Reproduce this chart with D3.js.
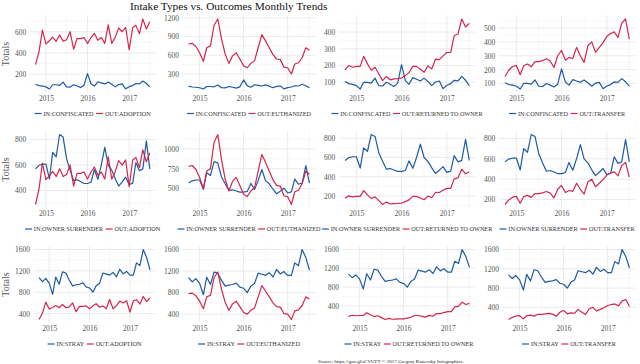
<!DOCTYPE html>
<html>
<head>
<meta charset="utf-8">
<script src="https://cdn.jsdelivr.net/npm/d3@7"></script>
<style>
  body { margin: 0; background: #fff; }
  svg { display: block; font-family: "Liberation Serif", "Times New Roman", serif; }
</style>
</head>
<body>
<div id="wrapper"></div>
<script>
// monthly totals, Oct 2014 - Jul 2017
const months = [
    "2014-10", "2014-11", "2014-12",
    "2015-01", "2015-02", "2015-03", "2015-04", "2015-05", "2015-06",
    "2015-07", "2015-08", "2015-09", "2015-10", "2015-11", "2015-12",
    "2016-01", "2016-02", "2016-03", "2016-04", "2016-05", "2016-06",
    "2016-07", "2016-08", "2016-09", "2016-10", "2016-11", "2016-12",
    "2017-01", "2017-02", "2017-03", "2017-04", "2017-05", "2017-06", "2017-07"
]

// intake series (blue)
const inConfiscated = [105, 92, 88, 80, 60, 100, 100, 95, 125, 80, 78, 100, 88, 75, 95, 205, 110, 88, 128, 118, 108, 125, 105, 80, 102, 108, 62, 82, 92, 112, 108, 135, 112, 80]
const inOwnerSurrender = [570, 598, 608, 608, 490, 700, 665, 840, 820, 650, 560, 478, 485, 470, 455, 455, 465, 565, 488, 600, 740, 600, 560, 492, 435, 468, 505, 445, 458, 620, 555, 570, 790, 570]
const inStray = [1075, 1000, 1060, 970, 760, 1085, 950, 1180, 1160, 1030, 920, 940, 950, 975, 900, 880, 800, 920, 970, 1160, 1140, 1120, 1170, 1090, 1230, 1145, 1190, 1120, 1120, 1350, 1300, 1600, 1450, 1220]

// outcome series (red)
const outAdoption = [290, 410, 615, 485, 515, 550, 510, 570, 510, 525, 600, 435, 535, 535, 545, 490, 545, 585, 520, 545, 490, 665, 490, 550, 635, 600, 640, 430, 640, 660, 580, 720, 625, 695]
const outEuthanized = [780, 790, 740, 640, 500, 720, 750, 1080, 1180, 870, 620, 470, 590, 640, 540, 430, 400, 470, 510, 720, 930, 830, 720, 610, 540, 530, 410, 400, 300, 460, 480, 560, 720, 680]
const outReturnedToOwner = [175, 200, 190, 195, 195, 255, 210, 172, 190, 150, 110, 135, 115, 120, 122, 125, 140, 158, 195, 195, 178, 160, 198, 180, 238, 235, 258, 278, 278, 378, 388, 478, 430, 452]
const outTransfer = [150, 195, 222, 230, 163, 228, 240, 220, 258, 258, 265, 278, 262, 215, 300, 338, 268, 288, 280, 360, 300, 252, 372, 400, 325, 360, 395, 440, 460, 472, 432, 535, 565, 420]

const intakeLabels = ["IN:CONFISCATED", "IN:OWNER SURRENDER", "IN:STRAY"]
const outcomeLabels = ["OUT:ADOPTION", "OUT:EUTHANIZED", "OUT:RETURNED TO OWNER", "OUT:TRANSFER"]
const yearTicks = ["2015", "2016", "2017"]

// y breaks per panel [row][col]
const yTickValues = [
    [[200, 400, 600], [300, 600, 900, 1200], [100, 200, 300, 400], [100, 200, 300, 400, 500]],
    [[400, 600, 800], [500, 750, 1000], [200, 400, 600, 800], [200, 400, 600, 800]],
    [[400, 800, 1200, 1600], [400, 800, 1200, 1600], [400, 800, 1200, 1600], [400, 800, 1200, 1600]]
]

const titleText = "Intake Types vs. Outcomes Monthly Trends"
const sourceText = "Source: https://goo.gl/rCVUFT \u00A9 2017 Gregory Kanevsky Infographics."

function drawTrends(){
    const intakes = [inConfiscated, inOwnerSurrender, inStray]
    const outcomes = [outAdoption, outEuthanized, outReturnedToOwner, outTransfer]

    const parseMonth = d3.timeParse("%Y-%m")
    const dates = months.map(parseMonth)
    const parseYear = d3.timeParse("%Y")

    const colors = { intake: "#1f5aa3", outcome: "#d3264f" }

    const dimensions = {
        width: 640,
        height: 364,
        colWidth: 160,
        rowTops: [15.5, 131, 246],
        panelHeight: 77,
        rightInset: 4.5,
        tickSize: 7.5,
        legendSize: 6.2
    }

    const wrapper = d3.select('#wrapper')
        .append('svg')
        .attr('width', dimensions.width)
        .attr('height', dimensions.height)

    // helper to measure text width
    const measure = (txt, size) => {
        const t = wrapper.append('text').attr('font-size', size).text(txt)
        const w = t.node().getComputedTextLength()
        t.remove()
        return w
    }

    // x scale shared (5% expansion like ggplot)
    const [d0, d1] = d3.extent(dates)
    const span = d1 - d0
    const xDomain = [new Date(+d0 - span * 0.05), new Date(+d1 + span * 0.05)]
    const majorX = yearTicks.map(parseYear)
    const minorX = [2014, 2015, 2016, 2017]
        .map(y => new Date(y, 6, 1))
        .filter(d => d >= xDomain[0] && d <= xDomain[1])

    intakes.forEach((inSeries, row) => {
        outcomes.forEach((outSeries, col) => {
            const ticks = yTickValues[row][col]
            const labelW = d3.max(ticks, t => measure(String(t), dimensions.tickSize))
            const base = col * dimensions.colWidth
            const left = base + (col === 0 ? 15 : 4) + labelW + 3.5
            const right = base + dimensions.colWidth - dimensions.rightInset
            const top = dimensions.rowTops[row]
            const bottom = top + dimensions.panelHeight

            const xScale = d3.scaleTime()
                .domain(xDomain)
                .range([left, right])

            const [lo, hi] = d3.extent(inSeries.concat(outSeries))
            const pad = (hi - lo) * 0.05
            const yScale = d3.scaleLinear()
                .domain([lo - pad, hi + pad])
                .range([bottom, top])

            const step = ticks[1] - ticks[0]
            const minorY = [ticks[0] - step / 2]
                .concat(ticks.map(t => t + step / 2))
                .filter(v => v >= lo - pad && v <= hi + pad)

            const panel = wrapper.append('g')

            // grid
            panel.append('g').selectAll('line')
                .data(minorY)
                .join('line')
                .attr('x1', left).attr('x2', right)
                .attr('y1', d => yScale(d)).attr('y2', d => yScale(d))
                .attr('stroke', '#f3f3f3').attr('stroke-width', 0.6)
            panel.append('g').selectAll('line')
                .data(minorX)
                .join('line')
                .attr('x1', d => xScale(d)).attr('x2', d => xScale(d))
                .attr('y1', top).attr('y2', bottom)
                .attr('stroke', '#f3f3f3').attr('stroke-width', 0.6)
            panel.append('g').selectAll('line')
                .data(ticks)
                .join('line')
                .attr('x1', left).attr('x2', right)
                .attr('y1', d => yScale(d)).attr('y2', d => yScale(d))
                .attr('stroke', '#e6e6e6').attr('stroke-width', 0.8)
            panel.append('g').selectAll('line')
                .data(majorX)
                .join('line')
                .attr('x1', d => xScale(d)).attr('x2', d => xScale(d))
                .attr('y1', top).attr('y2', bottom)
                .attr('stroke', '#e6e6e6').attr('stroke-width', 0.8)

            // axes (no domain line, no ticks)
            const yAxis = d3.axisLeft(yScale)
                .tickValues(ticks)
                .tickFormat(d3.format('d'))
                .tickSize(0)
                .tickPadding(3.5)
            const yAxisGroup = panel.append('g')
                .attr('transform', `translate(${left},0)`)
                .call(yAxis)
            yAxisGroup.select('.domain').remove()
            yAxisGroup.selectAll('text')
                .attr('font-size', dimensions.tickSize)
                .attr('font-family', 'Liberation Serif, serif')
                .attr('fill', '#555')

            const xAxis = d3.axisBottom(xScale)
                .tickValues(majorX)
                .tickFormat(d3.timeFormat('%Y'))
                .tickSize(0)
                .tickPadding(3)
            const xAxisGroup = panel.append('g')
                .attr('transform', `translate(0,${bottom})`)
                .call(xAxis)
            xAxisGroup.select('.domain').remove()
            xAxisGroup.selectAll('text')
                .attr('font-size', dimensions.tickSize)
                .attr('font-family', 'Liberation Serif, serif')
                .attr('fill', '#555')

            // lines
            const line = d3.line()
                .x((d, i) => xScale(dates[i]))
                .y(d => yScale(d))

            panel.append('path')
                .datum(inSeries)
                .attr('d', line)
                .attr('fill', 'none')
                .attr('stroke', colors.intake)
                .attr('stroke-width', 1.2)
                .attr('stroke-linejoin', 'round')

            panel.append('path')
                .datum(outSeries)
                .attr('d', line)
                .attr('fill', 'none')
                .attr('stroke', colors.outcome)
                .attr('stroke-width', 1.2)
                .attr('stroke-linejoin', 'round')

            if (col === 0) {
                panel.append('text')
                    .attr('transform', `translate(8.5,${(top + bottom) / 2}) rotate(-90)`)
                    .attr('text-anchor', 'middle')
                    .attr('font-size', 10)
                    .attr('fill', '#555')
                    .text('Totals')
            }

            // legend
            const items = [
                { label: intakeLabels[row], color: colors.intake },
                { label: outcomeLabels[col], color: colors.outcome }
            ]
            const keyW = 7, keyGap = 1.8, itemGap = 2.5
            let cursor = 0
            items.forEach(item => {
                item.x = cursor
                item.w = measure(item.label, dimensions.legendSize)
                cursor += keyW + keyGap + item.w + itemGap
            })
            const legendW = cursor - itemGap
            const legendY = bottom + 21
            const legend = panel.append('g')
                .attr('transform', `translate(${(left + right) / 2 - legendW / 2},${legendY})`)
            const entries = legend.selectAll('g')
                .data(items)
                .join('g')
                .attr('transform', d => `translate(${d.x},0)`)
            entries.append('line')
                .attr('x1', 0).attr('x2', keyW)
                .attr('y1', 0).attr('y2', 0)
                .attr('stroke', d => d.color)
                .attr('stroke-width', 1.2)
            entries.append('text')
                .attr('x', keyW + keyGap)
                .attr('y', 2.1)
                .attr('font-size', dimensions.legendSize)
                .attr('fill', '#333')
                .text(d => d.label)
        })
    })

    wrapper.append('text')
        .attr('x', 130)
        .attr('y', 10)
        .attr('font-size', 11.3)
        .attr('fill', '#111')
        .text(titleText)

    wrapper.append('text')
        .attr('x', 318)
        .attr('y', 362.5)
        .attr('font-size', 5)
        .attr('fill', '#222')
        .text(sourceText)
}

drawTrends()
</script>
</body>
</html>
